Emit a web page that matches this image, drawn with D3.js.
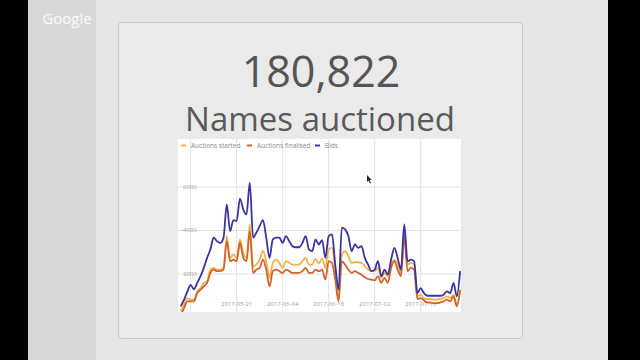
<!DOCTYPE html>
<html>
<head>
<meta charset="utf-8">
<script src="https://cdn.jsdelivr.net/npm/d3@7"></script>
<style>
  body { margin: 0; background: #000; }
  svg { display: block; font-family: "Open Sans", sans-serif; }
</style>
</head>
<body>
<div id="chart"></div>
<script>
// daily series, starting 2017-05-04
const startDate = "2017-05-04";
const seriesNames = ["Auctions started", "Auctions finalised", "Bids"];
const seriesColors = ["#f3b24a", "#d0652e", "#3a34a0"];

const started = [280, 590, 890, 820, 820, 1200, 1350, 1590, 1660, 2200,
    2280, 2200, 2200, 2280, 3740, 2740, 2900, 2740, 3590, 2970,
    2740, 4280, 2360, 2430, 2660, 3050, 2590, 1820, 2510, 2660,
    2510, 2280, 2590, 2510, 2430, 2430, 2430, 2590, 2740, 2430,
    2430, 2700, 2480, 2710, 2280, 3130, 3200, 2200, 820, 2900,
    3050, 2820, 2510, 2540, 2540, 2510, 2360, 2200, 2130, 2130,
    2280, 1820, 2050, 1900, 2430, 2660, 2430, 2050, 3820, 2430,
    2510, 2430, 970, 1050, 890, 850, 850, 820, 820, 850,
    890, 970, 890, 1050, 590, 1280];

const finalised = [120, 430, 740, 740, 740, 1120, 1280, 1430, 1590, 2050,
    2200, 2130, 2130, 2200, 3510, 2590, 2660, 2590, 3430, 2740,
    2590, 3970, 2050, 2200, 2280, 2660, 2200, 1430, 2130, 2200,
    2130, 2050, 2200, 2130, 2050, 2050, 2050, 2130, 2280, 2050,
    2050, 2200, 2130, 2200, 1740, 2590, 2510, 1740, 740, 2590,
    2430, 2200, 2050, 2130, 2050, 1970, 1860, 1770, 1740, 1710,
    1900, 1590, 1820, 1590, 2280, 2590, 2200, 1900, 3740, 2130,
    2280, 2200, 850, 890, 790, 690, 690, 660, 660, 690,
    740, 820, 740, 970, 510, 1250];

const bids = [510, 820, 1200, 1500, 1300, 1590, 1900, 2280, 2740, 3130,
    3670, 3510, 3430, 3670, 5200, 3970, 4480, 4440, 5470, 4970,
    4740, 6200, 3670, 3900, 4200, 4480, 3670, 2740, 3590, 3670,
    3670, 3430, 3740, 3510, 3280, 3230, 3230, 3430, 3740, 3130,
    3050, 3590, 3360, 3560, 2740, 3740, 3820, 2430, 1280, 4130,
    4050, 3740, 3050, 3360, 3200, 3280, 2740, 2430, 2130, 2200,
    2590, 1900, 2200, 1970, 2660, 3200, 2740, 2200, 4280, 2590,
    2660, 2590, 1120, 1350, 1120, 1000, 1000, 1000, 1000, 1000,
    1050, 1200, 1120, 1590, 970, 2130];

const yTicks = [2000, 4000, 6000];
const xTickLabels = ["2017-05-21", "2017-06-04", "2017-06-18", "2017-07-02", "2017-07-16"];
const xGridDates = ["2017-05-07", "2017-05-21", "2017-06-04", "2017-06-18", "2017-07-02", "2017-07-16"];

const parseDate = d3.timeParse("%Y-%m-%d");
const dates = d3.timeDay.range(parseDate(startDate), d3.timeDay.offset(parseDate(startDate), bids.length));

const svg = d3.select("#chart").append("svg")
    .attr("width", 640)
    .attr("height", 360);

// video frame: black bars, sidebar, slide background
svg.append("rect").attr("width", 640).attr("height", 360).attr("fill", "#000");
svg.append("rect").attr("x", 28).attr("width", 580).attr("height", 360).attr("fill", "#e5e5e5");
svg.append("rect").attr("x", 28).attr("width", 68).attr("height", 360).attr("fill", "#d8d8d8");
svg.append("text")
    .attr("x", 67).attr("y", 24)
    .attr("text-anchor", "middle")
    .attr("font-size", 15)
    .attr("fill", "#fafafa")
    .text("Google");

// card
svg.append("rect")
    .attr("x", 118.5).attr("y", 22.5)
    .attr("width", 404).attr("height", 316)
    .attr("rx", 3)
    .attr("fill", "#eaeaea")
    .attr("stroke", "#c9c9c9");

svg.append("text")
    .attr("x", 321).attr("y", 87)
    .attr("text-anchor", "middle")
    .attr("font-size", 43)
    .attr("fill", "#555")
    .text("180,822");

svg.append("text")
    .attr("x", 320).attr("y", 131)
    .attr("text-anchor", "middle")
    .attr("font-size", 33)
    .attr("fill", "#5a5a5a")
    .text("Names auctioned");

// chart area
let plot = { left: 178, top: 139, width: 283, height: 173 };

let g = svg.append("g");
g.append("rect")
    .attr("x", plot.left).attr("y", plot.top)
    .attr("width", plot.width).attr("height", plot.height)
    .attr("fill", "#fff");

svg.append("clipPath").attr("id", "plotClip")
    .append("rect")
    .attr("x", plot.left).attr("y", plot.top)
    .attr("width", plot.width).attr("height", plot.height);

let xScale = d3.scaleTime()
    .domain([dates[0], dates[dates.length - 1]])
    .range([180.8, 180.8 + 3.286 * (dates.length - 1)]);

let yScale = d3.scaleLinear()
    .domain([0, 6000])
    .range([317.5, 187]);

// gridlines
g.selectAll(".hgrid").data(yTicks).enter().append("line")
    .attr("class", "hgrid")
    .attr("x1", plot.left).attr("x2", plot.left + plot.width)
    .attr("y1", d => yScale(d)).attr("y2", d => yScale(d))
    .attr("stroke", "#e3e3e3");

g.selectAll(".vgrid").data(xGridDates.map(parseDate)).enter().append("line")
    .attr("class", "vgrid")
    .attr("x1", d => xScale(d)).attr("x2", d => xScale(d))
    .attr("y1", plot.top).attr("y2", plot.top + plot.height)
    .attr("stroke", "#e3e3e3");

// axis labels
g.selectAll(".ylab").data(yTicks).enter().append("text")
    .attr("class", "ylab")
    .attr("x", 183).attr("y", d => yScale(d) + 1.5)
    .attr("font-size", 6)
    .attr("fill", "#a0a0a0")
    .text(d => d);

g.selectAll(".xlab").data(xTickLabels).enter().append("text")
    .attr("class", "xlab")
    .attr("x", d => xScale(parseDate(d)))
    .attr("y", 306)
    .attr("text-anchor", "middle")
    .attr("font-size", 6)
    .attr("fill", "#a0a0a0")
    .text(d => d);

// lines
let series = [started, finalised, bids];
let line = d3.line()
    .x((d, i) => xScale(dates[i]))
    .y(d => yScale(d))
    .curve(d3.curveMonotoneX);

g.append("g").attr("clip-path", "url(#plotClip)")
    .selectAll(".series").data(series).enter().append("path")
    .attr("class", "series")
    .attr("d", d => line(d))
    .attr("fill", "none")
    .attr("stroke", (d, i) => seriesColors[i])
    .attr("stroke-width", 1.8)
    .attr("stroke-linejoin", "round");

// legend
let legendX = [181, 247, 315];
let legend = g.selectAll(".legend").data(seriesNames).enter().append("g")
    .attr("class", "legend")
    .attr("transform", (d, i) => `translate(${legendX[i]}, 145.5)`);

legend.append("line")
    .attr("x1", 0).attr("x2", 5)
    .attr("stroke", (d, i) => seriesColors[i])
    .attr("stroke-width", 2);

legend.append("text")
    .attr("x", 10).attr("y", 2.2)
    .attr("font-size", 6.5)
    .attr("fill", "#8a8a8a")
    .text(d => d);

// mouse pointer seen in the frame
svg.append("path")
    .attr("d", "M367,175 l0,7 l1.6,-1.5 l1.4,3 l1,-0.5 l-1.4,-3 l2.2,0 z")
    .attr("fill", "#222");
</script>
</body>
</html>
